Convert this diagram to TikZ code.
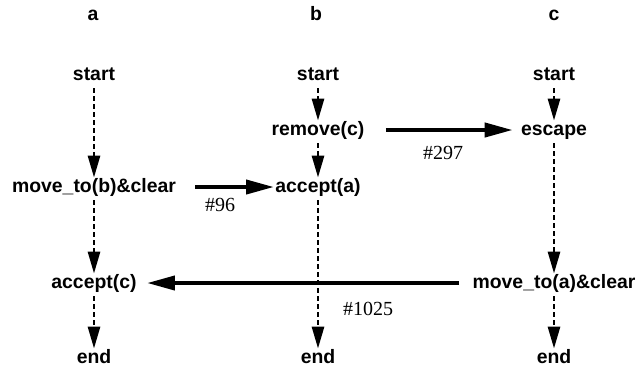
\documentclass[tikz,border=0pt]{standalone}
\usepackage{fontspec}
\setmainfont{Liberation Serif}
\setsansfont{Liberation Sans}
\usetikzlibrary{arrows.meta}

\begin{document}
\begin{tikzpicture}[x=0.5pt, y=-0.5pt,
  every node/.style={inner sep=0pt, text height=7pt, text depth=2pt},
  act/.style={font=\sffamily\bfseries\fontsize{9.7}{11}\selectfont},
  num/.style={font=\fontsize{10}{12}\selectfont},
  seq/.style={line width=1.4pt, dash pattern=on 2.2pt off 1.8pt, shorten <=2pt,
    -{Triangle[length=11pt,width=6pt]}},
  hop/.style={line width=2pt, -{Triangle[length=14pt,width=7pt]}}]
  \useasboundingbox (0,0) rectangle (636,372);

  % processes
  \node[act] (ca) at (93,15) {a};
  \node[act] (cb) at (316,15) {b};
  \node[act] (cc) at (554,15) {c};

  % process a
  \node[act] (sa) at (94,75) {start};
  \node[act] (mvb) at (94,187) {move\_to(b)\&clear};
  \node[act] (accc) at (94,283) {accept(c)};
  \node[act] (ea) at (94,358) {end};

  % process b
  \node[act] (sb) at (318,75) {start};
  \node[act] (rm) at (318,130) {remove(c)};
  \node[act] (acca) at (318,187) {accept(a)};
  \node[act] (eb) at (318,358) {end};

  % process c
  \node[act] (sc) at (554,75) {start};
  \node[act] (esc) at (554,130) {escape};
  \node[act] (mva) at (554,283) {move\_to(a)\&clear};
  \node[act] (ec) at (554,358) {end};

  \draw[seq] (sa) -- (mvb);
  \draw[seq] (mvb) -- (accc);
  \draw[seq] (accc) -- (ea);
  \draw[seq] (sb) -- (rm);
  \draw[seq] (rm) -- (acca);
  \draw[seq] (sc) -- (esc);
  \draw[seq] (esc) -- (mva);
  \draw[seq] (mva) -- (ec);

  % messages
  \draw[hop, shorten <=9.5pt, shorten >=0.5pt] (mvb) -- (acca);
  \draw[hop, shorten <=10.5pt, shorten >=4pt] (rm) -- (esc);
  \draw[hop, shorten <=6.5pt, shorten >=5pt] (mva) -- (accc);
  \draw[seq] (acca) -- (eb);

  \node[num] (n96) at (220,206) {\#96};
  \node[num] (n297) at (443,154) {\#297};
  \node[num] (n1025) at (368,310) {\#1025};
\end{tikzpicture}
\end{document}
